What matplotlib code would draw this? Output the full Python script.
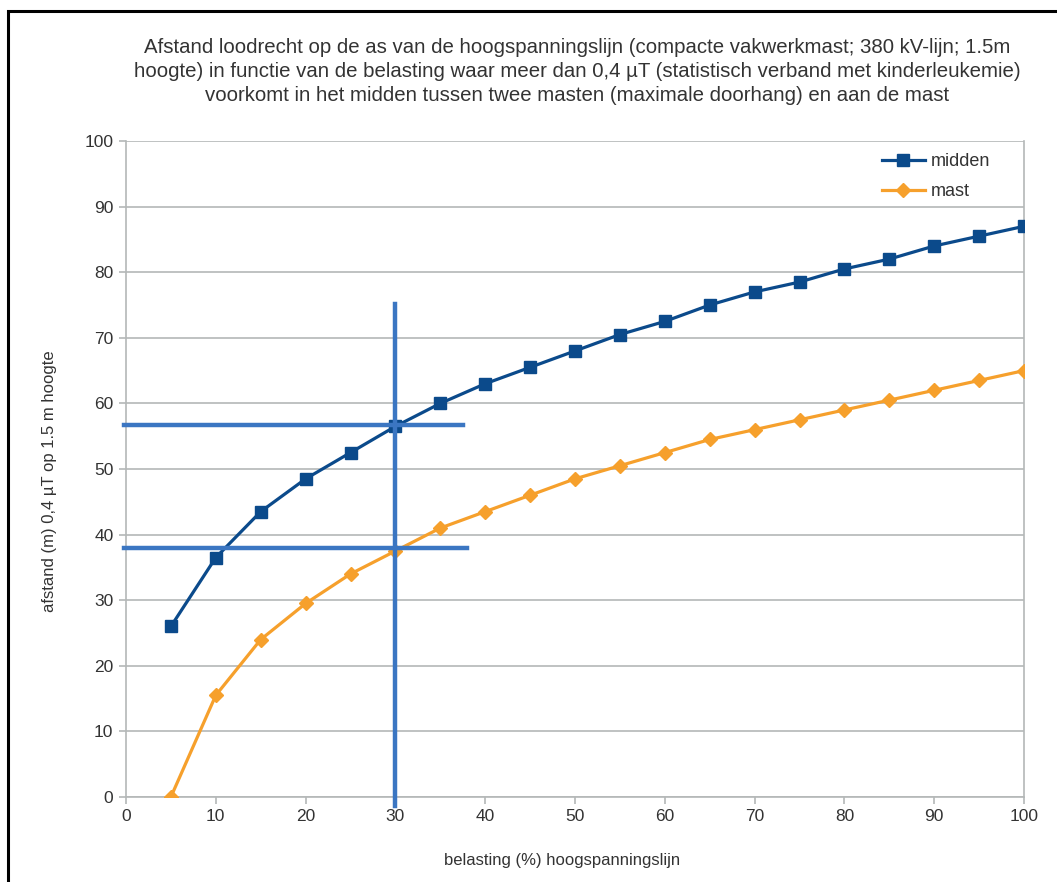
import matplotlib.pyplot as plt
from matplotlib.patches import Rectangle

plt.rcParams['font.family'] = ['Liberation Sans', 'DejaVu Sans']

# belasting (%) en afstand (m) voor beide posities
belasting = [5, 10, 15, 20, 25, 30, 35, 40, 45, 50,
             55, 60, 65, 70, 75, 80, 85, 90, 95, 100]
midden = [26, 36.5, 43.5, 48.5, 52.5, 56.5, 60, 63, 65.5, 68,
          70.5, 72.5, 75, 77, 78.5, 80.5, 82, 84, 85.5, 87]
mast = [0, 15.5, 24, 29.5, 34, 37.5, 41, 43.5, 46, 48.5,
        50.5, 52.5, 54.5, 56, 57.5, 59, 60.5, 62, 63.5, 65]

# hulplijnen bij 30% belasting
lees_x = 30
lees_midden = 56.7
lees_mast = 38

titel = ("Afstand loodrecht op de as van de hoogspanningslijn (compacte vakwerkmast; 380 kV-lijn; 1.5m\n"
         "hoogte) in functie van de belasting waar meer dan 0,4 µT (statistisch verband met kinderleukemie)\n"
         "voorkomt in het midden tussen twee masten (maximale doorhang) en aan de mast")

fig = plt.figure(figsize=(10.57, 8.82), dpi=100)
ax = fig.add_axes([0.1192, 0.0964, 0.8496, 0.7437])

grijs = '#b4b8b8'
tekst = '#333333'

ax.plot(belasting, midden, color='#0b4a8b', lw=2.3, marker='s', ms=9,
        label='midden', zorder=3)
ax.plot(belasting, mast, color='#f6a02c', lw=2.3, marker='D', ms=7,
        label='mast', zorder=3)

lijn = '#3b76c2'
ax.plot([lees_x, lees_x], [-1.4, 75.2], color=lijn, lw=3.2, clip_on=False, zorder=4)
ax.plot([-0.2, 37.5], [lees_midden, lees_midden], color=lijn, lw=3.2, clip_on=False, zorder=4)
ax.plot([-0.2, 38.0], [lees_mast, lees_mast], color=lijn, lw=3.2, clip_on=False, zorder=4)

ax.set_xlim(0, 100)
ax.set_ylim(0, 100)
ax.set_xticks(range(0, 101, 10))
ax.set_yticks(range(0, 101, 10))
ax.grid(axis='y', color=grijs, lw=1.2)
ax.set_axisbelow(True)
for s in ax.spines.values():
    s.set_color(grijs)
    s.set_linewidth(1.2)
ax.spines['top'].set_visible(False)
ax.tick_params(colors=grijs, labelcolor=tekst, labelsize=12.5, length=5, width=1.2, pad=4)

ax.set_xlabel('belasting (%) hoogspanningslijn', fontsize=12, color=tekst)
ax.xaxis.set_label_coords(0.486, -0.085)
ax.set_ylabel('afstand (m) 0,4 µT op 1.5 m hoogte', fontsize=12, color=tekst)
ax.yaxis.set_label_coords(-0.077, 0.482)

ax.legend(loc='upper right', bbox_to_anchor=(0.98, 1.006), frameon=False, fontsize=13,
          labelcolor=tekst, handlelength=2.4, handletextpad=0.3, labelspacing=0.7)

fig.text(0.546, 0.957, titel, ha='center', va='top', fontsize=14.7, color=tekst,
         linespacing=1.34)

# kader rond de figuur
fig.patches.append(Rectangle((8 / 1057, -0.1), 1.2, 1.1 - 11 / 882, transform=fig.transFigure,
                             fill=False, edgecolor='black', lw=2.2))

fig.savefig('out.png', dpi=100)
